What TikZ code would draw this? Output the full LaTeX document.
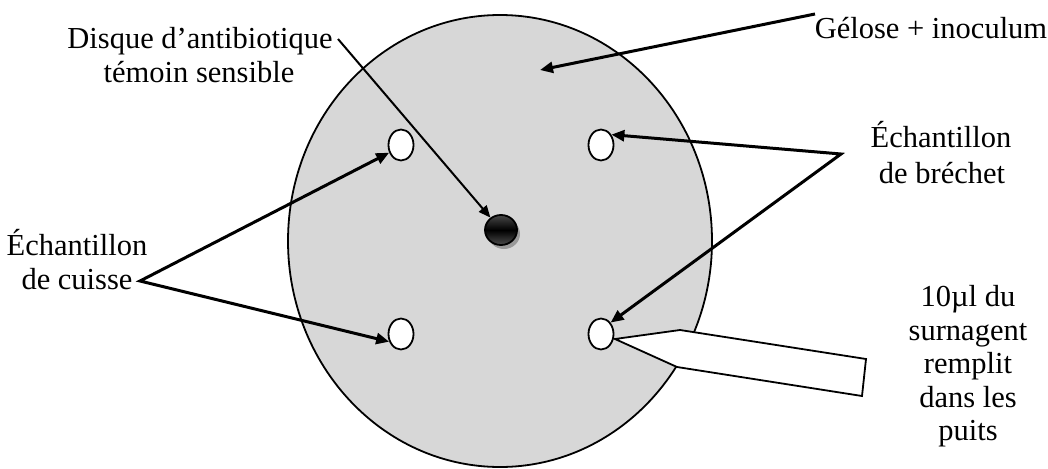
\documentclass[tikz,border=0pt]{standalone}
\usepackage{fontspec}
\setmainfont{Liberation Serif}
\usetikzlibrary{shapes.geometric,arrows.meta}
\definecolor{agar}{RGB}{215,215,215}
\begin{document}
\begin{tikzpicture}[x=1pt,y=-1pt,
  lbl/.style={font=\fontsize{30.5pt}{35pt}\selectfont, inner sep=0pt, anchor=base},
  well/.style={ellipse, draw, line width=1.8pt, fill=white, minimum width=25pt, minimum height=31pt, inner sep=0pt},
  tipA/.tip={Triangle[length=13pt,width=11pt]},
  thickarrow/.style={line width=3pt, -tipA},
  twoarrow/.style={line width=3pt, tipA-tipA, line join=miter},
  thinarrow/.style={line width=2pt, -{Triangle[length=12pt,width=10pt]}}
]
\useasboundingbox (0,0) rectangle (1048,468);
% plate
\node[ellipse, draw, line width=1.8pt, fill=agar, minimum width=424pt, minimum height=452pt, inner sep=0pt] (plate) at (500,241) {};
% pipette
\draw[line width=1.8pt, fill=white, line join=miter] (615,339) -- (680,330) -- (866,359) -- (862,396) -- (677,367) -- cycle;
% wells
\node[well] (wUL) at (401,145) {};
\node[well] (wUR) at (601,145) {};
\node[well] (wLL) at (401,334) {};
\node[well] (wLR) at (601,334) {};
% antibiotic disc
\fill[black!40] (504,234) ellipse [x radius=16pt, y radius=15pt];
\node[ellipse, draw, line width=1.8pt, minimum width=32pt, minimum height=30pt, inner sep=0pt,
  top color=black!72, bottom color=black!70, middle color=black] (disc) at (501,230) {};
% labels
\node[lbl] (disque1) at (200,49) {Disque d’antibiotique};
\node[lbl] (disque2) at (199,83) {témoin sensible};
\node[lbl] (gelose) at (931,39) {Gélose + inoculum};
\node[lbl] (brechet1) at (941,147) {Échantillon};
\node[lbl] (brechet2) at (942,183) {de bréchet};
\node[lbl] (cuisse1) at (77,255) {Échantillon};
\node[lbl] (cuisse2) at (77,289) {de cuisse};
\node[lbl] (vol1) at (968,306) {10µl du};
\node[lbl] (vol2) at (968,340) {surnagent};
\node[lbl] (vol3) at (968,373) {remplit};
\node[lbl] (vol4) at (968,407) {dans les};
\node[lbl] (vol5) at (968,440) {puits};
% connectors
\coordinate (disqueV) at (338,39);
\coordinate (geloseV) at (815,14);
\coordinate (agarpt) at (540,70);
\coordinate (brechetV) at (841,154);
\coordinate (cuisseV) at (140,281);
\draw[thinarrow] (disqueV) -- (disc);
\draw[thickarrow] (geloseV) -- (agarpt);
\draw[twoarrow] (wUR.45) -- (brechetV) -- (wLR.50);
\draw[twoarrow] (wUL.213) -- (cuisseV) -- (wLL.213);
\end{tikzpicture}
\end{document}
